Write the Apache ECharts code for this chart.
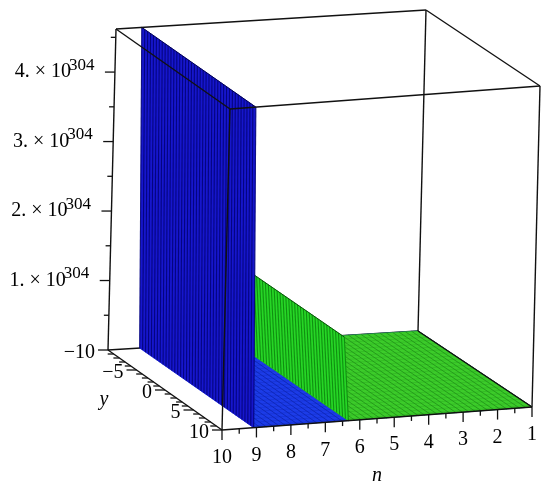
<!DOCTYPE html>
<html><head><meta charset="utf-8">
<script src="https://cdn.jsdelivr.net/npm/echarts@6/dist/echarts.min.js"></script>
<style>html,body{margin:0;padding:0;background:#fff}#c{width:550px;height:492px}</style>
</head><body><div id="c"></div>
<script>
// ---------- data ----------
const nTicks = [10, 9, 8, 7, 6, 5, 4, 3, 2, 1];
const nMinorTicks = [9.5, 8.5, 7.5, 6.5, 5.5, 4.5, 3.5, 2.5, 1.5];
const yTicks = [-10, -5, 0, 5, 10];
const yTickLabels = ['\u221210', '\u22125', '0', '5', '10'];
const yMinorTicks = [-9, -8, -7, -6, -4, -3, -2, -1, 1, 2, 3, 4, 6, 7, 8, 9];
const zTicks = [1e304, 2e304, 3e304, 4e304];
const zTickMantissa = ['1.', '2.', '3.', '4.'];
const zTickExponent = '304';
const zMinorTicks = [0.5e304, 1.5e304, 2.5e304, 3.5e304, 4.5e304];
const nRange = [1, 10];
const yRange = [-10, 10];
const zView = [0, 4.62e304];
// surface profiles along n (the surfaces do not vary with y)
const blueN = [1, 9.08, 9.265];
const blueZ = [0, 0, 5.0e304];
const greenN = [1, 6.33, 6.51];
const greenZ = [0, 0, 1.21e304];
const gridPointsN = 50;
const gridPointsY = 40;

// ---------- projection (layout constants) ----------
const DEPTH_X = 114, DEPTH_Y = 80, LEAN_X = 8, RISE_N = 19, RISE_NS = 4;
function proj(api, n, y, z) {
  const b = api.coord([n, z]);
  const t = (nRange[1] - n) / (nRange[1] - nRange[0]);
  const s = (y - yRange[0]) / (yRange[1] - yRange[0]);
  const u = (z - zView[0]) / (zView[1] - zView[0]);
  return [b[0] + DEPTH_X * s + LEAN_X * u, b[1] - RISE_N * t - RISE_NS * t * s + DEPTH_Y * s];
}
function line(p, q, stroke, w) {
  return { type: 'line', shape: { x1: p[0], y1: p[1], x2: q[0], y2: q[1] },
           style: { stroke: stroke, lineWidth: w || 1 } };
}
function text(p, str, opt) {
  return { type: 'text', x: p[0], y: p[1],
    style: Object.assign({ text: str, fill: '#000', fontFamily: 'Liberation Serif', fontSize: 20,
      align: 'center', verticalAlign: 'middle', textAlign: 'center', textVerticalAlign: 'middle' }, opt || {}) };
}
function clipProfile(ns, zs, zmax) {
  const segs = [];
  for (let i = 0; i < ns.length - 1; i++) {
    const n0 = ns[i], z0 = zs[i], n1 = ns[i + 1], z1 = zs[i + 1];
    if (z0 <= zmax && z1 <= zmax) segs.push([n0, z0, n1, z1]);
    else if (z0 <= zmax && z1 > zmax) {
      const nc = n0 + (n1 - n0) * (zmax - z0) / (z1 - z0);
      segs.push([n0, z0, nc, zmax]);
    }
  }
  return segs;
}
function surface(api, ns, zs, look) {
  const kids = [];
  const segs = clipProfile(ns, zs, zView[1]);
  segs.forEach(function (sg) {
    const n0 = sg[0], z0 = sg[1], n1 = sg[2], z1 = sg[3];
    const isWall = z1 !== z0;
    const pts = [proj(api, n0, yRange[0], z0), proj(api, n1, yRange[0], z1),
                 proj(api, n1, yRange[1], z1), proj(api, n0, yRange[1], z0)];
    kids.push({ type: 'polygon', shape: { points: pts },
      style: { fill: isWall ? look.wall : look.floor, stroke: isWall ? look.wall : look.floor, lineWidth: 0.5 } });
    if (isWall) {
      for (let j = 0; j < gridPointsY; j++) {
        const y = yRange[0] + (yRange[1] - yRange[0]) * j / (gridPointsY - 1);
        kids.push(line(proj(api, n0, y, z0), proj(api, n1, y, z1), look.stripe, 1.1));
      }
      kids.push(line(proj(api, n1, yRange[0], z1), proj(api, n1, yRange[1], z1), look.edge, 1));
    } else {
      for (let j = 0; j < 50; j += 2) {
        const y = yRange[0] + (yRange[1] - yRange[0]) * j / 49;
        kids.push(line(proj(api, n0, y, z0), proj(api, n1, y, z1), look.meshLight, 0.7));
      }
      for (let k = 0; k < gridPointsN; k++) {
        const nk = nRange[0] + (nRange[1] - nRange[0]) * k / (gridPointsN - 1);
        if (nk < n0 - 1e-9 || nk > n1 + 1e-9) continue;
        kids.push(line(proj(api, nk, yRange[0], z0), proj(api, nk, yRange[1], z0), look.mesh, 0.9));
      }
    }
  });
  return kids;
}
const BOX = '#111';
function boxBack(params, api) {
  return { type: 'group', children: [
    line(proj(api, nRange[1], yRange[0], zView[0]), proj(api, nRange[0], yRange[0], zView[0]), BOX, 1.4)
  ] };
}
function boxFront(params, api) {
  const c = function (i, j, k) { return proj(api, nRange[i], yRange[j], zView[k]); };
  const e = [
    [c(1,1,0), c(0,1,0)], [c(0,0,0), c(0,1,0)], [c(1,0,0), c(1,1,0)],
    [c(1,0,1), c(0,0,1)], [c(1,1,1), c(0,1,1)], [c(1,0,1), c(1,1,1)], [c(0,0,1), c(0,1,1)],
    [c(1,0,0), c(1,0,1)], [c(0,0,0), c(0,0,1)], [c(1,1,0), c(1,1,1)], [c(0,1,0), c(0,1,1)]
  ];
  return { type: 'group', children: e.map(function (s) { return line(s[0], s[1], BOX, 1.4); }) };
}
function axes(params, api) {
  const kids = [];
  nTicks.forEach(function (n) {
    const E = proj(api, n, yRange[1], 0);
    kids.push(line(E, [E[0], E[1] + 10], BOX, 1.3));
    kids.push(text([E[0], E[1] + 28], String(n)));
  });
  nMinorTicks.forEach(function (n) {
    const E = proj(api, n, yRange[1], 0);
    kids.push(line(E, [E[0], E[1] + 5], BOX, 1.3));
  });
  const nt = proj(api, (nRange[0] + nRange[1]) / 2, yRange[1], 0);
  kids.push(text([nt[0], nt[1] + 57], 'n', { fontStyle: 'italic' }));
  yTicks.forEach(function (y, i) {
    const E = proj(api, nRange[1], y, 0);
    kids.push(line(E, [E[0] - 10, E[1]], BOX, 1.3));
    kids.push(text([E[0] - 13, E[1] + 3], yTickLabels[i], { align: 'right', textAlign: 'right' }));
  });
  yMinorTicks.forEach(function (y) {
    const E = proj(api, nRange[1], y, 0);
    kids.push(line(E, [E[0] - 6, E[1]], BOX, 1.3));
  });
  const yt = proj(api, nRange[1], 0, 0);
  kids.push(text([yt[0] - 61, yt[1] + 10], 'y', { fontStyle: 'italic' }));
  zTicks.forEach(function (z, i) {
    const E = proj(api, nRange[1], yRange[0], z);
    kids.push(line(E, [E[0] - 10, E[1]], BOX, 1.3));
    kids.push(text([E[0] - 44, E[1]], zTickMantissa[i] + ' \u00d7 10', { align: 'right', textAlign: 'right' }));
    kids.push(text([E[0] - 46, E[1] - 7], zTickExponent, { fontSize: 17, align: 'left', textAlign: 'left' }));
  });
  zMinorTicks.forEach(function (z) {
    const E = proj(api, nRange[1], yRange[0], z);
    kids.push(line(E, [E[0] - 5, E[1]], BOX, 1.3));
  });
  return { type: 'group', children: kids };
}
const blueLook = { wall: '#1616cc', stripe: 'rgba(0,0,110,0.8)', floor: '#1c3ce8', mesh: '#0e26b4', meshLight: 'rgba(10,30,170,0.35)', edge: '#000050' };
const greenLook = { wall: '#26d626', stripe: 'rgba(10,120,10,0.75)', floor: '#3ccc2a', mesh: '#22961a', meshLight: 'rgba(30,140,20,0.35)', edge: '#0a500a' };

const chart = echarts.init(document.getElementById('c'), null, { renderer: 'canvas' });
function single(render, z) {
  return { type: 'custom', coordinateSystem: 'cartesian2d', clip: false, silent: true, z: z,
           data: [[nRange[0], zView[0]]], renderItem: render };
}
chart.setOption({
  animation: false,
  backgroundColor: '#fff',
  grid: { left: 108, right: 132, top: 29, bottom: 142 },
  xAxis: { type: 'value', min: nRange[0], max: nRange[1], inverse: true, show: false },
  yAxis: { type: 'value', min: zView[0], max: zView[1], show: false },
  series: [
    single(boxBack, 1),
    single(function (p, api) {
      return { type: 'group', children: surface(api, [blueN[0], blueN[1]], [blueZ[0], blueZ[1]], blueLook) };
    }, 2),
    single(function (p, api) { return { type: 'group', children: surface(api, greenN, greenZ, greenLook) }; }, 3),
    single(function (p, api) { return { type: 'group', children: surface(api, blueN.slice(1), blueZ.slice(1), blueLook) }; }, 4),
    single(boxFront, 5),
    single(axes, 6)
  ]
});
</script></body></html>
